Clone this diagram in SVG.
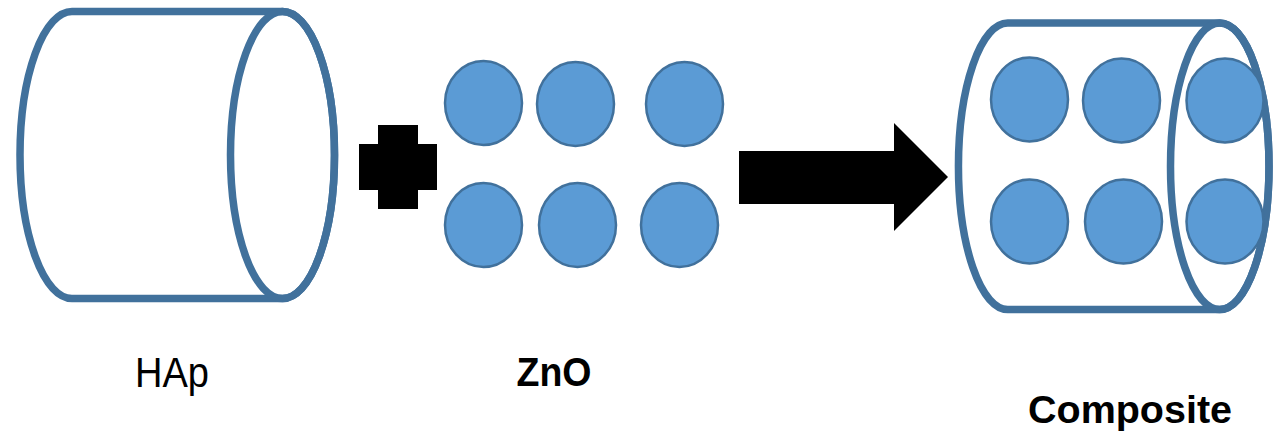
<svg xmlns="http://www.w3.org/2000/svg" width="1273" height="433" viewBox="0 0 1273 433">
  <style>
    .can { fill: #ffffff; stroke: #41719C; stroke-width: 7.5; stroke-linejoin: round; }
    .rim { fill: none; stroke: #41719C; stroke-width: 7.5; }
    .dot { fill: #5B9BD5; stroke: #41719C; stroke-width: 2.5; }
    .solid { fill: #000000; }
    .label { font-family: "Liberation Sans", Arial, sans-serif; fill: #000000; text-anchor: middle; }
  </style>

  <!-- HAp cylinder -->
  <g id="hap">
    <path class="can" d="M72,11.5 H282.5 A52,143.5 0 0 1 282.5,298.5 H72 A52,143.5 0 0 1 72,11.5 Z"/>
    <ellipse class="rim" cx="282.5" cy="155" rx="52" ry="143.5"/>
    <text class="label" x="172" y="387" font-size="43" textLength="74" lengthAdjust="spacingAndGlyphs">HAp</text>
  </g>

  <!-- plus sign -->
  <g id="plus">
    <path class="solid" d="M378,125 H418 V144 H437 V190 H418 V209 H378 V190 H359 V144 H378 Z"/>
  </g>

  <!-- ZnO particles -->
  <g id="zno">
    <ellipse class="dot" cx="483.5" cy="103" rx="38.5" ry="42"/>
    <ellipse class="dot" cx="575.5" cy="104" rx="38.5" ry="42"/>
    <ellipse class="dot" cx="684.5" cy="104" rx="38.5" ry="42"/>
    <ellipse class="dot" cx="483.5" cy="225" rx="38.5" ry="42"/>
    <ellipse class="dot" cx="577.5" cy="225" rx="38.5" ry="42"/>
    <ellipse class="dot" cx="679.5" cy="225" rx="38.5" ry="42"/>
    <text class="label" x="554" y="386" font-size="40" font-weight="bold" textLength="75" lengthAdjust="spacingAndGlyphs">ZnO</text>
  </g>

  <!-- process arrow -->
  <g id="connectors">
    <path class="solid" d="M739,151 H894 V123 L948,177 L894,231 V204 H739 Z"/>
  </g>

  <!-- composite: cylinder loaded with particles -->
  <g id="composite">
    <path class="can" d="M1007.7,23 H1219.75 A49.25,143.25 0 0 1 1219.75,309.5 H1007.7 A49.25,143.25 0 0 1 1007.7,23 Z"/>
    <ellipse class="rim" cx="1219.75" cy="166.25" rx="49.25" ry="143.25"/>
    <ellipse class="dot" cx="1029.5" cy="99.5" rx="38.5" ry="42"/>
    <ellipse class="dot" cx="1121.5" cy="100.5" rx="38.5" ry="42"/>
    <ellipse class="dot" cx="1225" cy="100.5" rx="38.5" ry="42"/>
    <ellipse class="dot" cx="1029.5" cy="221.5" rx="38.5" ry="42"/>
    <ellipse class="dot" cx="1123.5" cy="221.5" rx="38.5" ry="42"/>
    <ellipse class="dot" cx="1225" cy="221.5" rx="38.5" ry="42"/>
    <text class="label" x="1130" y="423" font-size="39" font-weight="bold" textLength="204" lengthAdjust="spacingAndGlyphs">Composite</text>
  </g>
</svg>
